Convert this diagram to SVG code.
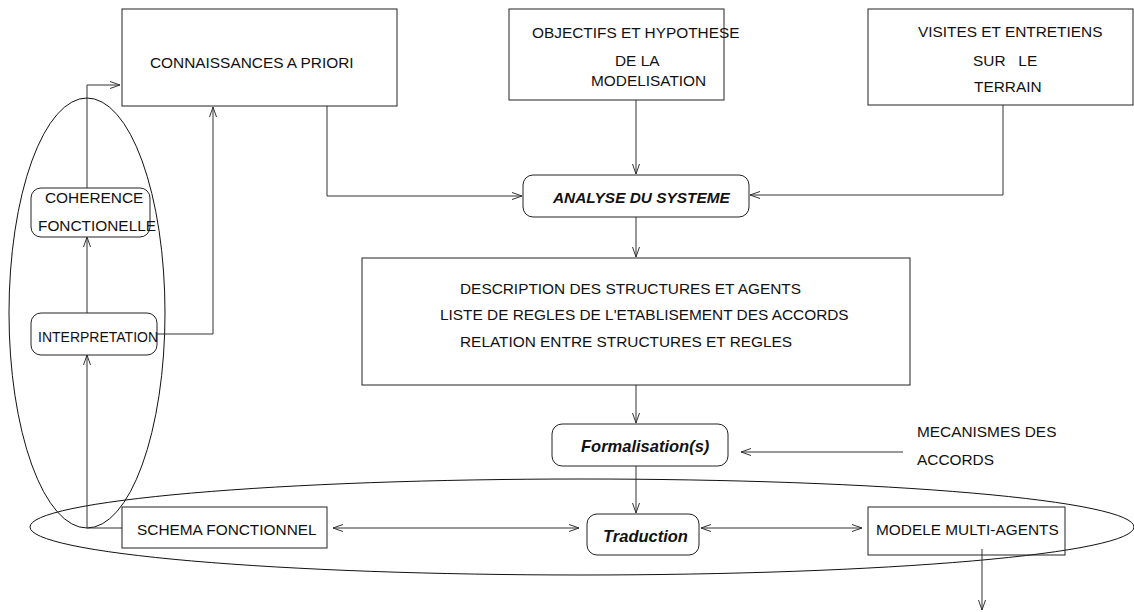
<svg xmlns="http://www.w3.org/2000/svg" width="1134" height="612" viewBox="0 0 1134 612">
  <defs>
    <style>
      .box { fill: none; stroke: #222; stroke-width: 1; }
      .ring { fill: none; stroke: #111; stroke-width: 1; }
      .wire { fill: none; stroke: #333; stroke-width: 1; }
      .lbl { font-family: "Liberation Sans", Arial, sans-serif; font-size: 15.4px; fill: #111; white-space: pre; }
      .key { font-family: "Liberation Sans", Arial, sans-serif; font-size: 15.4px; font-weight: bold; font-style: italic; fill: #111; }
      .key-lc { font-size: 16.5px; }
    </style>
    <marker id="head" viewBox="0 0 10 8" refX="10" refY="4" markerWidth="10" markerHeight="8" markerUnits="userSpaceOnUse" orient="auto-start-reverse">
      <path d="M0,0.5 L10,4 L0,7.5" fill="none" stroke="#333" stroke-width="1"/>
    </marker>
  </defs>

  <rect width="1134" height="612" fill="#fff"/>

  <!-- grouping outlines -->
  <g id="groupings">
    <ellipse class="ring" cx="87" cy="313" rx="78" ry="215"/>
    <ellipse class="ring" cx="582" cy="527" rx="552" ry="48"/>
  </g>

  <!-- connectors -->
  <g id="connectors">
    <path class="wire" d="M327,106 V196 H522" marker-end="url(#head)"/>
    <path class="wire" d="M636,100 V174" marker-end="url(#head)"/>
    <path class="wire" d="M1003,105 V195 H750" marker-end="url(#head)"/>
    <path class="wire" d="M636,217 V257" marker-end="url(#head)"/>
    <path class="wire" d="M636,385 V423" marker-end="url(#head)"/>
    <path class="wire" d="M903,452 H741" marker-end="url(#head)"/>
    <path class="wire" d="M636,466 V513" marker-end="url(#head)"/>
    <path class="wire" d="M333,528 H579" marker-start="url(#head)" marker-end="url(#head)"/>
    <path class="wire" d="M701,528 H862" marker-start="url(#head)" marker-end="url(#head)"/>
    <path class="wire" d="M982,549 V610" marker-end="url(#head)"/>
    <path class="wire" d="M122,528 H87 V355" marker-end="url(#head)"/>
    <path class="wire" d="M87,313 V237" marker-end="url(#head)"/>
    <path class="wire" d="M87,188 V85 H120" marker-end="url(#head)"/>
    <path class="wire" d="M157,334 H213 V107" marker-end="url(#head)"/>
  </g>

  <g id="connaissances">
    <rect class="box" x="122" y="9" width="275" height="97"/>
    <text class="lbl" x="150" y="68">CONNAISSANCES A PRIORI</text>
  </g>

  <g id="objectifs">
    <rect class="box" x="509" y="9" width="215" height="91"/>
    <text class="lbl" x="532" y="38">OBJECTIFS ET HYPOTHESE</text>
    <text class="lbl" x="615" y="66">DE LA</text>
    <text class="lbl" x="591" y="86">MODELISATION</text>
  </g>

  <g id="visites">
    <rect class="box" x="868" y="9" width="265" height="96"/>
    <text class="lbl" x="918" y="37">VISITES ET ENTRETIENS</text>
    <text class="lbl" x="973" y="66">SUR   LE</text>
    <text class="lbl" x="974" y="92">TERRAIN</text>
  </g>

  <g id="analyse">
    <rect class="box" x="523" y="175" width="226" height="42" rx="10" ry="10"/>
    <text class="key" x="553" y="203">ANALYSE DU SYSTEME</text>
  </g>

  <g id="description">
    <rect class="box" x="362" y="258" width="548" height="127"/>
    <text class="lbl" x="460" y="294">DESCRIPTION DES STRUCTURES ET AGENTS</text>
    <text class="lbl" x="440" y="320">LISTE DE REGLES DE L'ETABLISEMENT DES ACCORDS</text>
    <text class="lbl" x="460" y="347">RELATION ENTRE STRUCTURES ET REGLES</text>
  </g>

  <g id="formalisation">
    <rect class="box" x="552" y="424" width="176" height="42" rx="10" ry="10"/>
    <text class="key key-lc" x="581" y="452">Formalisation(s)</text>
  </g>

  <g id="mecanismes">
    <text class="lbl" x="917" y="437">MECANISMES DES</text>
    <text class="lbl" x="917" y="465">ACCORDS</text>
  </g>

  <g id="traduction">
    <rect class="box" x="587" y="514" width="112" height="41" rx="10" ry="10"/>
    <text class="key key-lc" x="603" y="542">Traduction</text>
  </g>

  <g id="schema">
    <rect class="box" x="122" y="507" width="205" height="41"/>
    <text class="lbl" x="137" y="535">SCHEMA FONCTIONNEL</text>
  </g>

  <g id="modele">
    <rect class="box" x="868" y="507" width="197" height="48"/>
    <text class="lbl" x="876" y="535">MODELE MULTI-AGENTS</text>
  </g>

  <g id="coherence">
    <rect class="box" x="31" y="188" width="119" height="49" rx="10" ry="10"/>
    <text class="lbl" x="45" y="203">COHERENCE</text>
    <text class="lbl" x="38" y="231">FONCTIONELLE</text>
  </g>

  <g id="interpretation">
    <rect class="box" x="31" y="313" width="126" height="42" rx="10" ry="10"/>
    <text class="lbl" x="38" y="342" style="font-size:14px">INTERPRETATION</text>
  </g>
</svg>
